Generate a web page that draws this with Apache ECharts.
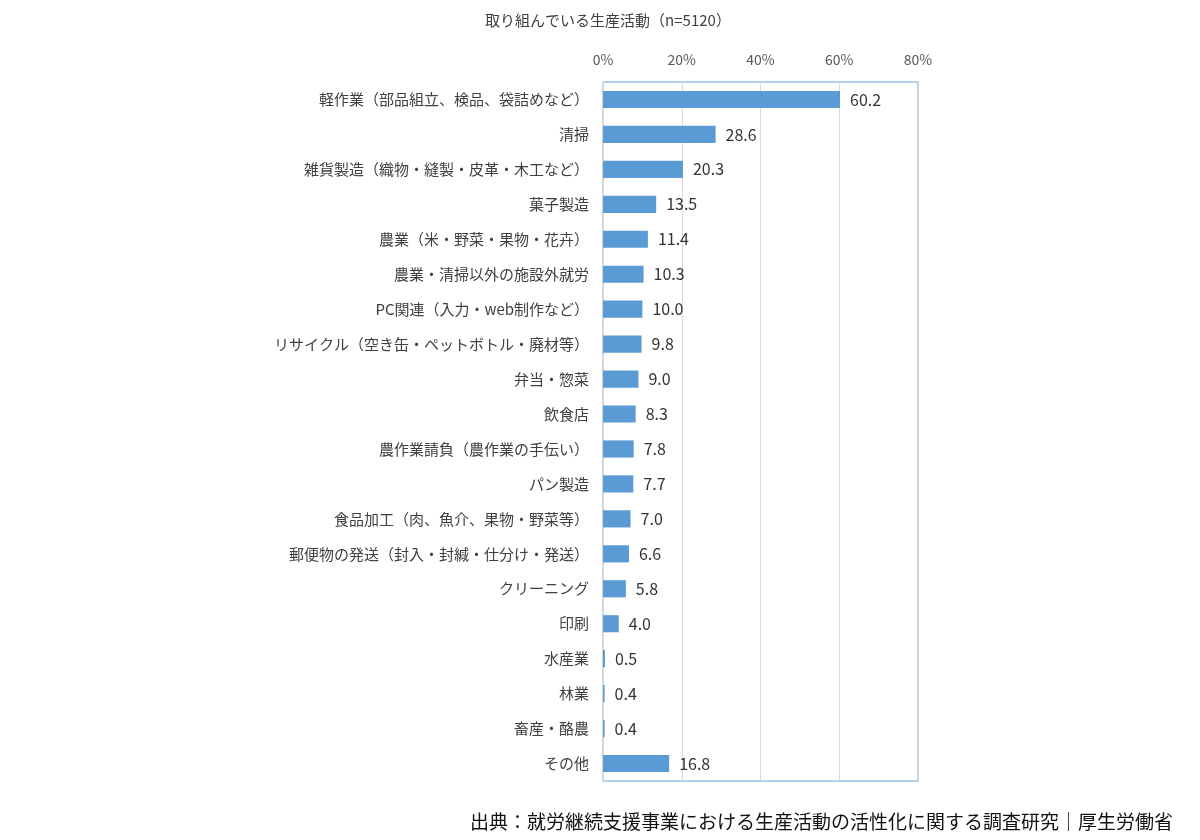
<!DOCTYPE html>
<html><head><meta charset="utf-8">
<script src="https://cdn.jsdelivr.net/npm/echarts@6/dist/echarts.min.js"></script>
<style>html,body{margin:0;padding:0;background:#fff;}#c{width:1200px;height:840px;}</style>
</head><body><div id="c"></div>
<script>
const categories = [
  "軽作業（部品組立、検品、袋詰めなど）",
  "清掃",
  "雑貨製造（織物・縫製・皮革・木工など）",
  "菓子製造",
  "農業（米・野菜・果物・花卉）",
  "農業・清掃以外の施設外就労",
  "PC関連（入力・web制作など）",
  "リサイクル（空き缶・ペットボトル・廃材等）",
  "弁当・惣菜",
  "飲食店",
  "農作業請負（農作業の手伝い）",
  "パン製造",
  "食品加工（肉、魚介、果物・野菜等）",
  "郵便物の発送（封入・封緘・仕分け・発送）",
  "クリーニング",
  "印刷",
  "水産業",
  "林業",
  "畜産・酪農",
  "その他"
];
const values = [60.2, 28.6, 20.3, 13.5, 11.4, 10.3, 10.0, 9.8, 9.0, 8.3, 7.8, 7.7, 7.0, 6.6, 5.8, 4.0, 0.5, 0.4, 0.4, 16.8];
const xTicks = [0, 20, 40, 60, 80];
const titleText = "取り組んでいる生産活動（n=5120）";
const sourceText = "出典：就労継続支援事業における生産活動の活性化に関する調査研究｜厚生労働省";

const FONT = '"Noto Sans CJK JP", "Noto Sans", sans-serif';
const chart = echarts.init(document.getElementById('c'));
chart.setOption({
  backgroundColor: '#fff',
  animation: false,
  title: [
    { text: titleText, left: 603, textAlign: 'center', top: 8,
      textStyle: { fontFamily: FONT, fontSize: 15, fontWeight: 'normal', color: '#404040' } },
    { text: sourceText, right: 22, top: 807,
      textStyle: { fontFamily: FONT, fontSize: 19, fontWeight: 'normal', color: '#111' } }
  ],
  grid: { left: 603, right: 282, top: 82, height: 699, show: true, borderColor: '#9DC3E6', borderWidth: 1.5, containLabel: false },
  xAxis: {
    type: 'value', position: 'top', min: xTicks[0], max: xTicks[xTicks.length - 1], interval: 20,
    axisLine: { show: false }, axisTick: { show: false },
    axisLabel: { formatter: '{value}%', fontFamily: FONT, fontSize: 14, color: '#595959', margin: 15 },
    splitLine: { show: true, lineStyle: { color: '#D9D9D9', width: 1 } }
  },
  yAxis: {
    type: 'category', data: categories, inverse: true,
    axisLine: { show: true, lineStyle: { color: '#D9D9D9', width: 1.5 } }, axisTick: { show: false },
    axisLabel: { fontFamily: FONT, fontSize: 15, color: '#404040', margin: 14 }
  },
  series: [{
    type: 'bar', data: values, barWidth: '49%',
    itemStyle: { color: '#5B9BD5' },
    label: { show: true, position: 'right', distance: 10, fontFamily: FONT, fontSize: 16, color: '#333',
      formatter: p => p.value.toFixed(1) }
  }]
});
</script></body></html>
